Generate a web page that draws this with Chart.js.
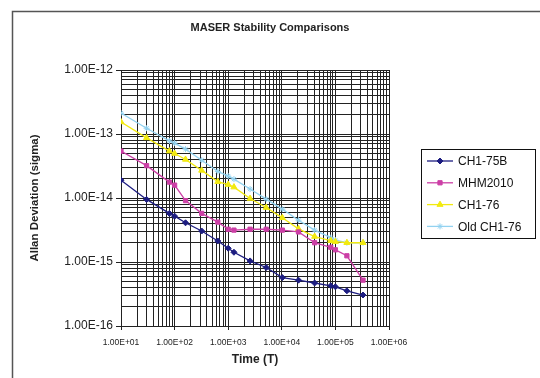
<!DOCTYPE html>
<html>
<head>
<meta charset="utf-8">
<script src="https://cdn.jsdelivr.net/npm/chart.js@4/dist/chart.umd.min.js"></script>
<style>
  html, body { margin: 0; padding: 0; background: #fff; }
  #wrap { position: relative; width: 540px; height: 378px; }
</style>
</head>
<body>
<div id="wrap"><canvas id="chart" width="540" height="378"></canvas></div>
<script>
// averaging time (s)
const tau = [10, 30, 80, 100, 160, 320, 640, 1000, 1280, 2560, 5120, 10240, 20480, 40960, 81920, 100000, 163840, 327680];

// Allan deviation
const ch175b = [1.90e-14, 9.5e-15, 5.75e-15, 5.2e-15, 4.1e-15, 3.05e-15, 2.13e-15, 1.64e-15, 1.42e-15, 1.04e-15, 8.2e-16, 5.7e-16, 5.2e-16, 4.7e-16, 4.25e-16, 4.1e-16, 3.55e-16, 3.05e-16];
const mhm2010 = [5.4e-14, 3.2e-14, 1.77e-14, 1.59e-14, 9.1e-15, 5.75e-15, 4.2e-15, 3.25e-15, 3.15e-15, 3.25e-15, 3.25e-15, 3.15e-15, 2.95e-15, 2.0e-15, 1.7e-15, 1.55e-15, 1.25e-15, 5.2e-16];
const ch176 = [1.54e-13, 8.7e-14, 5.4e-14, 4.95e-14, 4.0e-14, 2.7e-14, 1.8e-14, 1.62e-14, 1.48e-14, 9.8e-15, 7.1e-15, 4.9e-15, 3.3e-15, 2.5e-15, 2.15e-15, 2.08e-15, 2.0e-15, 2.0e-15];
const oldCh176 = [2.12e-13, 1.23e-13, 7.8e-14, 7.2e-14, 5.8e-14, 3.9e-14, 2.6e-14, 2.2e-14, 1.97e-14, 1.38e-14, 9.6e-15, 6.7e-15, 4.5e-15, 3.15e-15, 2.4e-15, 2.2e-15, 2.0e-15, 2.0e-15];

const seriesNames = ['CH1-75B', 'MHM2010', 'CH1-76', 'Old CH1-76'];

// labels shown on the decades
const xTickLabels = ['1.00E+01', '1.00E+02', '1.00E+03', '1.00E+04', '1.00E+05', '1.00E+06'];
const yTickLabels = ['1.00E-16', '1.00E-15', '1.00E-14', '1.00E-13', '1.00E-12'];
const xDecades = [1, 2, 3, 4, 5, 6];
const yDecades = [-16, -15, -14, -13, -12];

const chartTitle = 'MASER Stability Comparisons';
const FONT = "'Liberation Sans', Arial, sans-serif";

function toPoints(vals) {
    return tau.map((t, i) => ({ x: t, y: vals[i] }));
}

// 1..9 x 10^e for every decade, so every log grid line is drawn
function logTicks(decades) {
    const ticks = [];
    for (let k = 0; k < decades.length - 1; k++) {
        for (let d = 1; d <= 9; d++) {
            ticks.push({ value: Number(d + 'e' + decades[k]) });
        }
    }
    ticks.push({ value: Number('1e' + decades[decades.length - 1]) });
    return ticks;
}

function decadeLabel(value, decades, labels) {
    const e = Math.log10(value);
    const r = Math.round(e);
    if (Math.abs(e - r) > 1e-6) return '';
    const i = decades.indexOf(r);
    return i >= 0 ? labels[i] : '';
}

function isDecade(value) {
    const e = Math.log10(value);
    return Math.abs(e - Math.round(e)) < 1e-6;
}

const datasets = [
    { label: seriesNames[0], data: toPoints(ch175b), borderColor: '#1c1c80', backgroundColor: '#1c1c80',
      pointStyle: 'rectRot', pointRadius: 3, borderWidth: 1.3 },
    { label: seriesNames[1], data: toPoints(mhm2010), borderColor: '#cc3fa6', backgroundColor: '#cc3fa6',
      pointStyle: 'rect', pointRadius: 3, borderWidth: 1.3 },
    { label: seriesNames[2], data: toPoints(ch176), borderColor: '#f2ea10', backgroundColor: '#f2ea10',
      pointStyle: 'triangle', pointRadius: 3.5, borderWidth: 1.3 },
    { label: seriesNames[3], data: toPoints(oldCh176), borderColor: '#92d2f0', backgroundColor: '#92d2f0',
      pointStyle: 'star', pointRadius: 3, borderWidth: 1.3 }
];
datasets.forEach(ds => {
    ds.showLine = true;
    ds.pointBorderWidth = 1;
    ds.tension = 0;
});

// outer frame of the chart object (cut off on the right and bottom) and the title
const framePlugin = {
    id: 'frame',
    beforeDraw(chart) {
        const ctx = chart.ctx;
        ctx.save();
        ctx.strokeStyle = '#555';
        ctx.lineWidth = 1.5;
        ctx.strokeRect(12.5, 11.5, 700, 700);
        ctx.font = 'bold 11px ' + FONT;
        ctx.fillStyle = '#222';
        ctx.textAlign = 'center';
        ctx.textBaseline = 'middle';
        ctx.fillText(chartTitle, 270, 28);
        ctx.restore();
    }
};

// boxed legend like the spreadsheet one
const boxLegendPlugin = {
    id: 'boxLegend',
    afterDraw(chart) {
        const ctx = chart.ctx;
        const left = 421, top = 149, width = 114, height = 89;
        ctx.save();
        ctx.strokeStyle = '#111';
        ctx.lineWidth = 1;
        ctx.strokeRect(left + 0.5, top + 0.5, width, height);
        ctx.font = '12px ' + FONT;
        ctx.textBaseline = 'middle';
        chart.data.datasets.forEach((ds, i) => {
            const y = top + 12 + i * 21.8;
            ctx.strokeStyle = ds.borderColor;
            ctx.lineWidth = 1.3;
            ctx.beginPath();
            ctx.moveTo(left + 6, y);
            ctx.lineTo(left + 32, y);
            ctx.stroke();
            if (Chart.helpers && Chart.helpers.drawPoint) {
                ctx.fillStyle = ds.backgroundColor;
                ctx.strokeStyle = ds.borderColor;
                ctx.lineWidth = 1;
                Chart.helpers.drawPoint(ctx, { pointStyle: ds.pointStyle, radius: ds.pointRadius, rotation: 0, borderWidth: 1 }, left + 19, y);
            }
            ctx.fillStyle = '#111';
            ctx.fillText(ds.label, left + 37, y + 1);
        });
        ctx.restore();
    }
};

const gridColor = '#222';

new Chart(document.getElementById('chart'), {
    type: 'scatter',
    data: { datasets: datasets },
    plugins: [framePlugin, boxLegendPlugin],
    options: {
        responsive: false,
        animation: false,
        layout: { padding: { left: 20, right: 151, top: 70, bottom: 0 } },
        plugins: {
            legend: { display: false },
            tooltip: { enabled: false },
            title: { display: false }
        },
        scales: {
            x: {
                type: 'logarithmic',
                min: 10,
                max: 1e6,
                afterBuildTicks: scale => { scale.ticks = logTicks(xDecades); },
                afterFit: scale => { scale.height = 52; },
                grid: {
                    color: gridColor,
                    lineWidth: 1,
                    drawTicks: true,
                    tickLength: 4,
                    tickColor: ctx => (ctx.tick && isDecade(ctx.tick.value)) ? gridColor : 'rgba(0,0,0,0)'
                },
                border: { color: '#222', width: 1 },
                ticks: {
                    autoSkip: false,
                    maxRotation: 0,
                    minRotation: 0,
                    padding: 8,
                    color: '#222',
                    font: { family: FONT, size: 8.5 },
                    callback: value => decadeLabel(value, xDecades, xTickLabels)
                },
                title: {
                    display: true,
                    text: 'Time (T)',
                    color: '#222',
                    font: { family: FONT, size: 12, weight: 'bold' },
                    padding: { top: 0, bottom: 11 }
                }
            },
            y: {
                type: 'logarithmic',
                min: 1e-16,
                max: 1e-12,
                afterBuildTicks: scale => { scale.ticks = logTicks(yDecades); },
                afterFit: scale => { scale.width = 101; },
                grid: {
                    color: gridColor,
                    lineWidth: 1,
                    drawTicks: true,
                    tickLength: 5,
                    tickColor: ctx => (ctx.tick && isDecade(ctx.tick.value)) ? gridColor : 'rgba(0,0,0,0)'
                },
                border: { color: '#222', width: 1 },
                ticks: {
                    autoSkip: false,
                    padding: 3,
                    color: '#222',
                    font: { family: FONT, size: 12 },
                    callback: value => decadeLabel(value, yDecades, yTickLabels)
                },
                title: {
                    display: true,
                    text: 'Allan Deviation (sigma)',
                    color: '#222',
                    font: { family: FONT, size: 11.5, weight: 'bold' },
                    padding: { top: 8, bottom: 0 }
                }
            }
        }
    }
});
</script>
</body>
</html>
